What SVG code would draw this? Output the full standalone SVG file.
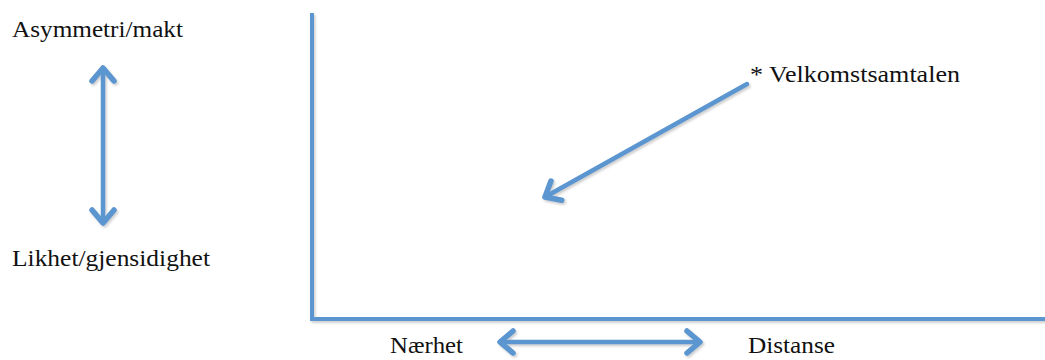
<svg xmlns="http://www.w3.org/2000/svg" width="1045" height="360" viewBox="0 0 1045 360">
<style>
.ln{fill:none;stroke:#5b96d0;stroke-width:4.5;stroke-linecap:round;stroke-linejoin:round;filter:url(#sh)}
.ax{fill:none;stroke:#5b96d0;stroke-width:4;filter:url(#sh)}
.t{font-family:"Liberation Serif","Times New Roman",serif;font-size:22.5px;fill:#111}
</style>
<defs>
<filter id="sh" filterUnits="userSpaceOnUse" x="0" y="0" width="1045" height="360">
<feDropShadow dx="1.5" dy="2" stdDeviation="1" flood-color="#777" flood-opacity="0.35"/>
</filter>
<marker id="ah" markerUnits="userSpaceOnUse" viewBox="-18 -16 22 32" refX="0" refY="0" markerWidth="22" markerHeight="32" orient="auto-start-reverse">
<path d="M-13,-11 L0,0 L-13,11" fill="none" stroke="#5b96d0" stroke-width="5.5" stroke-linecap="round" stroke-linejoin="round"/>
</marker>
</defs>
<g id="axes">
<polyline class="ax" points="312,13 312,319 1045,319"/>
</g>
<g id="connectors">
<line class="ln" x1="103" y1="68" x2="103" y2="223" marker-start="url(#ah)" marker-end="url(#ah)"/>
<line class="ln" x1="500" y1="342" x2="700" y2="342" marker-start="url(#ah)" marker-end="url(#ah)"/>
<line class="ln" x1="747" y1="84" x2="545" y2="197" marker-end="url(#ah)"/>
</g>
<g id="label-asymmetri"><text class="t" x="12" y="37" textLength="171" lengthAdjust="spacingAndGlyphs">Asymmetri/makt</text></g>
<g id="label-likhet"><text class="t" x="12" y="266" textLength="198" lengthAdjust="spacingAndGlyphs">Likhet/gjensidighet</text></g>
<g id="label-velkomst"><text class="t" x="750" y="82" textLength="210" lengthAdjust="spacingAndGlyphs">* Velkomstsamtalen</text></g>
<g id="label-naerhet"><text class="t" x="390" y="353" textLength="73" lengthAdjust="spacingAndGlyphs">Nærhet</text></g>
<g id="label-distanse"><text class="t" x="748" y="353" textLength="87" lengthAdjust="spacingAndGlyphs">Distanse</text></g>
</svg>
